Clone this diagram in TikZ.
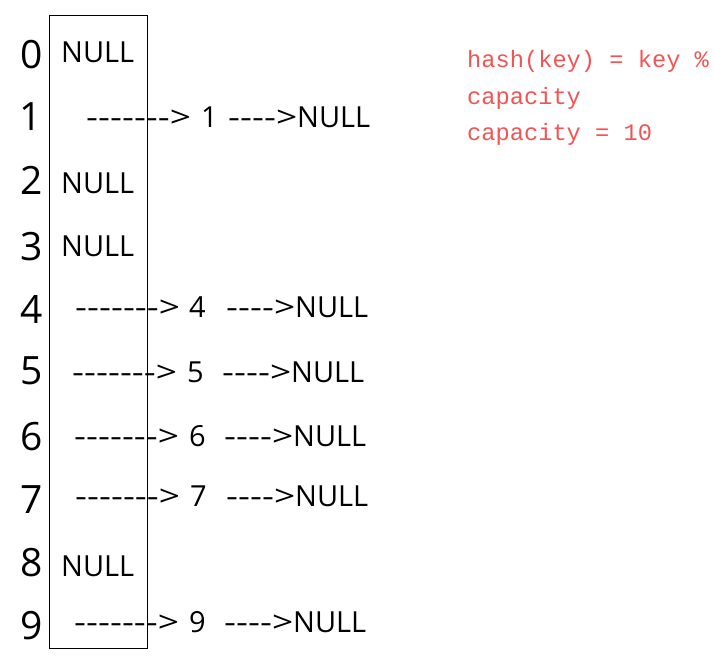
\documentclass[tikz,border=0pt]{standalone}
\usepackage{fontspec}
\setmainfont{Open Sans}[Ligatures=TeXOff]
\newfontfamily\notefont{Liberation Mono}[Ligatures=TeXOff]
\definecolor{notered}{RGB}{242,84,84}

\tikzset{
  slotnum/.style={anchor=base,inner sep=0pt,font=\fontsize{39}{39}\selectfont},
  cell/.style={anchor=base west,inner sep=0pt,font=\fontsize{29}{29}\selectfont},
  note/.style={anchor=base west,inner sep=0pt,text=notered,
    font=\notefont\fontsize{23.7}{23.7}\selectfont},
}
\newcommand{\longarrow}{\scalebox{1.28}[1]{------->}}
\newcommand{\shortarrow}{\scalebox{1.28}[1]{---->}}

\begin{document}
\begin{tikzpicture}[x=1pt,y=-1pt]
  \useasboundingbox (0,0) rectangle (714,657);

  % the table
  \draw (49,15) rectangle (147,648);

  \node[slotnum] (i0) at (32,68)  {0};
  \node[slotnum] (i1) at (31,130) {1};
  \node[slotnum] (i2) at (32,194) {2};
  \node[slotnum] (i3) at (32,260) {3};
  \node[slotnum] (i4) at (32,323) {4};
  \node[slotnum] (i5) at (32,384) {5};
  \node[slotnum] (i6) at (32,450) {6};
  \node[slotnum] (i7) at (32,513) {7};
  \node[slotnum] (i8) at (32,576) {8};
  \node[slotnum] (i9) at (32,639) {9};

  % empty slots
  \node[cell] (null0) at (61,62)  {NULL};
  \node[cell] (null2) at (61,193) {NULL};
  \node[cell] (null3) at (61,256) {NULL};
  \node[cell] (null8) at (61,576) {NULL};

  % chains
  \node[cell] (ptr1)  at (86,127) {\longarrow};
  \node[cell] (key1)  at (201,127) {1};
  \node[cell] (tail1) at (228,127) {\shortarrow NULL};

  \node[cell] (ptr4)  at (75,317) {\longarrow};
  \node[cell] (key4)  at (189,317) {4};
  \node[cell] (tail4) at (226,317) {\shortarrow NULL};

  \node[cell] (ptr5)  at (72,382) {\longarrow};
  \node[cell] (key5)  at (187,382) {5};
  \node[cell] (tail5) at (222,382) {\shortarrow NULL};

  \node[cell] (ptr6)  at (74,446) {\longarrow};
  \node[cell] (key6)  at (189,446) {6};
  \node[cell] (tail6) at (224,446) {\shortarrow NULL};

  \node[cell] (ptr7)  at (75,506) {\longarrow};
  \node[cell] (key7)  at (190,506) {7};
  \node[cell] (tail7) at (226,506) {\shortarrow NULL};

  \node[cell] (ptr9)  at (74,632) {\longarrow};
  \node[cell] (key9)  at (189,632) {9};
  \node[cell] (tail9) at (224,632) {\shortarrow NULL};

  % hash function
  \node[note] (hash1) at (467,67)  {hash(key) = key \%};
  \node[note] (hash2) at (467,104) {capacity};
  \node[note] (cap)   at (467,140) {capacity = 10};
\end{tikzpicture}
\end{document}
